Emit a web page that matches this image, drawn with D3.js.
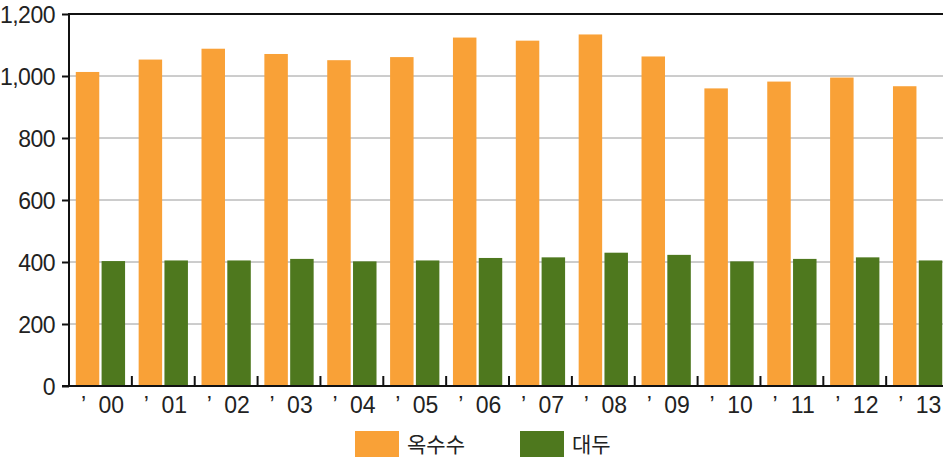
<!DOCTYPE html>
<html>
<head>
<meta charset="utf-8">
<script src="https://cdn.jsdelivr.net/npm/d3@7"></script>
<style>
  body { margin: 0; background: #fff; }
  svg { display: block; }
</style>
</head>
<body>
<div id="chart"></div>
<script>
// years and values
var years = ["00","01","02","03","04","05","06","07","08","09","10","11","12","13"];
var corn = [1013,1053,1088,1071,1051,1061,1124,1114,1134,1063,960,982,995,967];
var soy = [403,405,405,410,402,405,413,415,430,423,402,410,415,405];
var seriesNames = ["옥수수", "대두"];
var seriesColors = ["#F9A137", "#4E781E"];
var yTicks = [0,200,400,600,800,1000,1200];

var width = 943, height = 458;
var plotLeft = 69, plotTop = 14, plotBottom = 386;
// the plot runs a bit past the right edge of the picture
var plotRight = plotLeft + 14 * 62.86;

var svg = d3.select("#chart").append("svg")
  .attr("width", width)
  .attr("height", height);

var x0 = d3.scaleBand().domain(years).range([plotLeft, plotRight])
  .paddingInner(0.216).paddingOuter(0.108);
var x1 = d3.scaleBand().domain([0, 1]).range([0, x0.bandwidth()]).paddingInner(0.09);
var y = d3.scaleLinear().domain([0, 1200]).range([plotBottom, plotTop]);

// grid lines
svg.append("g")
  .selectAll("line")
  .data(yTicks.filter(function(d){ return d > 0 && d < 1200; }))
  .enter().append("line")
  .attr("x1", plotLeft).attr("x2", width)
  .attr("y1", function(d){ return y(d); })
  .attr("y2", function(d){ return y(d); })
  .attr("stroke", "#9a9a9a")
  .attr("stroke-width", 1);

// bars
var groups = svg.append("g")
  .selectAll("g")
  .data(years)
  .enter().append("g")
  .attr("transform", function(d){ return "translate(" + x0(d) + ",0)"; });

groups.selectAll("rect")
  .data(function(d, i){ return [corn[i], soy[i]]; })
  .enter().append("rect")
  .attr("x", function(d, j){ return x1(j); })
  .attr("width", x1.bandwidth())
  .attr("y", function(d){ return y(d); })
  .attr("height", function(d){ return plotBottom - y(d); })
  .attr("fill", function(d, j){ return seriesColors[j]; });

// y axis
var yAxis = svg.append("g")
  .attr("transform", "translate(" + plotLeft + ",0)")
  .call(d3.axisLeft(y).tickValues(yTicks).tickSize(7).tickFormat(d3.format(",")));
yAxis.select(".domain").remove();
yAxis.selectAll("line").attr("stroke", "#111").attr("stroke-width", 2);
yAxis.selectAll("text")
  .attr("x", -14)
  .attr("dy", "0.36em")
  .style("font-family", "'Liberation Sans Narrow', 'Liberation Sans', sans-serif")
  .style("font-size", "23px")
  .style("letter-spacing", "-0.5px")
  .attr("fill", "#222");

// frame lines
svg.append("line").attr("x1", plotLeft).attr("x2", plotLeft).attr("y1", plotTop).attr("y2", plotBottom)
  .attr("stroke", "#111").attr("stroke-width", 2);
svg.append("line").attr("x1", plotLeft - 1).attr("x2", width).attr("y1", plotTop).attr("y2", plotTop)
  .attr("stroke", "#111").attr("stroke-width", 2);
svg.append("line").attr("x1", plotLeft - 7).attr("x2", width).attr("y1", plotBottom).attr("y2", plotBottom)
  .attr("stroke", "#111").attr("stroke-width", 2);

// x ticks at group boundaries, pointing up
var step = x0.step();
svg.append("g")
  .selectAll("line")
  .data(years.slice(1))
  .enter().append("line")
  .attr("x1", function(d){ return x0(d) - step * 0.108; })
  .attr("x2", function(d){ return x0(d) - step * 0.108; })
  .attr("y1", plotBottom - 10).attr("y2", plotBottom)
  .attr("stroke", "#111").attr("stroke-width", 2);

// x labels
var xl = svg.append("g")
  .style("font-family", "'Liberation Sans Narrow', 'Liberation Sans', sans-serif")
  .style("font-size", "23px")
  .attr("fill", "#222");
xl.selectAll(".apo")
  .data(years)
  .enter().append("text")
  .attr("class", "apo")
  .attr("x", function(d){ return x0(d) + x1(0) + x1.bandwidth() / 2 - 4; })
  .attr("y", 413)
  .attr("text-anchor", "middle")
  .text("’");
xl.selectAll(".yr")
  .data(years)
  .enter().append("text")
  .attr("class", "yr")
  .attr("x", function(d){ return x0(d) + x1(1) + x1.bandwidth() / 2 - 2; })
  .attr("y", 413)
  .attr("text-anchor", "middle")
  .text(function(d){ return d; });

// legend
var legendX = [355, 520];
var legend = svg.append("g")
  .selectAll("g")
  .data(seriesNames)
  .enter().append("g")
  .attr("transform", function(d, i){ return "translate(" + legendX[i] + ",431)"; });
legend.append("rect")
  .attr("width", 44).attr("height", 26)
  .attr("fill", function(d, i){ return seriesColors[i]; });
legend.append("text")
  .attr("x", 52).attr("y", 21)
  .style("font-family", "'Noto Sans CJK KR', sans-serif")
  .style("font-size", "21px")
  .attr("fill", "#222")
  .text(function(d){ return d; });
</script>
</body>
</html>
